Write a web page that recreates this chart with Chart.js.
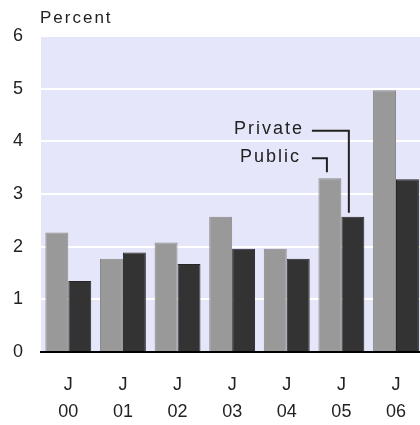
<!DOCTYPE html>
<html>
<head>
<meta charset="utf-8">
<script src="https://cdn.jsdelivr.net/npm/chart.js@4.4.1/dist/chart.umd.min.js"></script>
<style>
  html, body { margin: 0; padding: 0; background: #fff; overflow: hidden; }
  #wrap { position: relative; width: 426px; height: 425px; }
</style>
</head>
<body>
<div id="wrap"><canvas id="chart"></canvas></div>
<script>
// Annual growth, percent
const categories = [['J', '00'], ['J', '01'], ['J', '02'], ['J', '03'], ['J', '04'], ['J', '05'], ['J', '06']];
const publicValues = [2.27, 1.77, 2.08, 2.57, 1.96, 3.30, 4.97];
const privateValues = [1.35, 1.89, 1.67, 1.96, 1.77, 2.57, 3.28];
const yMin = 0;
const yMax = 6;
const yStep = 1;

const FONT = { family: '"Liberation Sans", Arial, sans-serif', size: 18 };
const INK = '#222222';

// lavender plot background
const plotBackground = {
  id: 'plotBackground',
  beforeDraw(chart) {
    const { ctx, chartArea: a } = chart;
    ctx.save();
    ctx.fillStyle = '#e6e6fa';
    ctx.fillRect(a.left, a.top, a.right - a.left, a.bottom - a.top);
    ctx.restore();
  }
};

// unit label and the two series callouts
const callouts = {
  id: 'callouts',
  afterDatasetsDraw(chart) {
    const { ctx, chartArea: a, scales: { y } } = chart;
    const pubBar = chart.getDatasetMeta(0).data[5];
    const privBar = chart.getDatasetMeta(1).data[5];
    const startX = pubBar.x - 18;

    ctx.save();
    ctx.fillStyle = INK;
    ctx.strokeStyle = INK;
    ctx.lineWidth = 2;
    ctx.letterSpacing = '2px';
    ctx.textBaseline = 'middle';

    ctx.font = '17px "Liberation Sans", Arial, sans-serif';
    ctx.textAlign = 'left';
    ctx.fillText('Percent', a.left - 1, a.top - 18);

    ctx.font = '18px "Liberation Sans", Arial, sans-serif';
    const privY = y.getPixelForValue(4.2);
    const privX = privBar.x - 4;
    ctx.textAlign = 'right';
    ctx.fillText('Private', startX - 8, privY - 2);
    ctx.beginPath();
    ctx.moveTo(startX, privY);
    ctx.lineTo(privX, privY);
    ctx.lineTo(privX, privBar.y - 4);
    ctx.stroke();

    const pubY = y.getPixelForValue(3.68);
    const pubX = pubBar.x - 3;
    ctx.fillText('Public', startX - 11, pubY - 1);
    ctx.beginPath();
    ctx.moveTo(startX, pubY);
    ctx.lineTo(pubX, pubY);
    ctx.lineTo(pubX, pubBar.y - 6);
    ctx.stroke();
    ctx.restore();
  }
};

new Chart(document.getElementById('chart'), {
  type: 'bar',
  data: {
    labels: categories,
    datasets: [
      {
        label: 'Public',
        data: publicValues,
        backgroundColor: '#999999',
        borderColor: '#8a8a8a',
        borderWidth: 1,
        categoryPercentage: 0.84,
        barPercentage: 1.0
      },
      {
        label: 'Private',
        data: privateValues,
        backgroundColor: '#333333',
        borderColor: '#262626',
        borderWidth: 1,
        categoryPercentage: 0.84,
        barPercentage: 1.0
      }
    ]
  },
  options: {
    responsive: true,
    maintainAspectRatio: false,
    animation: false,
    layout: { padding: { top: 36, left: 0, right: 0, bottom: 0 } },
    plugins: {
      legend: { display: false },
      tooltip: { enabled: false }
    },
    scales: {
      x: {
        grid: { display: false, drawTicks: false },
        border: { display: true, color: '#000000', width: 2 },
        ticks: {
          color: INK,
          font: { ...FONT, lineHeight: 1.5 },
          padding: 20,
          maxRotation: 0,
          autoSkip: false
        },
        afterFit: (s) => { s.height = 73; }
      },
      y: {
        min: yMin,
        max: yMax,
        grid: { color: '#ffffff', lineWidth: 2, drawTicks: false },
        border: { display: false },
        ticks: {
          stepSize: yStep,
          color: INK,
          font: FONT,
          padding: 18
        },
        afterFit: (s) => { s.width = 41; }
      }
    }
  },
  plugins: [plotBackground, callouts]
});
</script>
</body>
</html>
